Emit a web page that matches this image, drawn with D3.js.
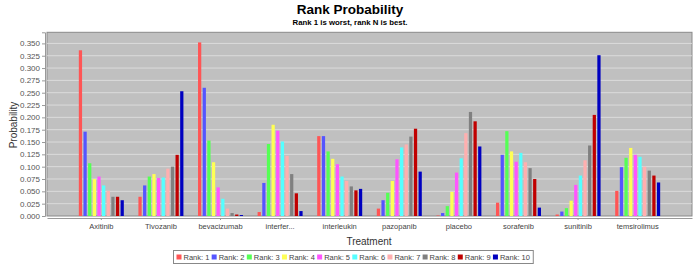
<!DOCTYPE html>
<html>
<head>
<meta charset="utf-8">
<script src="https://cdn.jsdelivr.net/npm/d3@7"></script>
<style>
  body { margin: 0; background: #fff; }
  svg text { font-family: "Liberation Sans", Arial, sans-serif; }
</style>
</head>
<body>
<svg id="chart" width="700" height="265"></svg>
<script>
// Rank probability bar chart
const treatments = ["Axitinib", "Tivozanib", "bevacizumab", "interfer...", "interleukin",
                    "pazopanib", "placebo", "sorafenib", "sunitinib", "temsirolimus"];
const ranks = ["Rank: 1", "Rank: 2", "Rank: 3", "Rank: 4", "Rank: 5",
               "Rank: 6", "Rank: 7", "Rank: 8", "Rank: 9", "Rank: 10"];
const rankColors = ["#ff5555", "#5555ff", "#55ff55", "#ffff55", "#ff55ff",
                    "#55ffff", "#ffafaf", "#808080", "#c00000", "#0000c0"];
// one row per treatment, one value per rank
const probs = [
  [0.336, 0.171, 0.107, 0.075, 0.080, 0.062, 0.051, 0.039, 0.039, 0.032],
  [0.039, 0.062, 0.080, 0.085, 0.077, 0.078, 0.096, 0.100, 0.124, 0.253],
  [0.352, 0.260, 0.153, 0.109, 0.058, 0.035, 0.015, 0.006, 0.003, 0.002],
  [0.008, 0.067, 0.146, 0.185, 0.173, 0.151, 0.122, 0.085, 0.046, 0.010],
  [0.162, 0.162, 0.131, 0.116, 0.105, 0.080, 0.071, 0.060, 0.052, 0.055],
  [0.015, 0.032, 0.047, 0.071, 0.115, 0.139, 0.145, 0.161, 0.177, 0.090],
  [0.001, 0.006, 0.020, 0.049, 0.088, 0.117, 0.168, 0.211, 0.192, 0.141],
  [0.027, 0.124, 0.172, 0.131, 0.110, 0.128, 0.109, 0.097, 0.075, 0.017],
  [0.003, 0.009, 0.016, 0.031, 0.063, 0.082, 0.113, 0.143, 0.205, 0.326],
  [0.051, 0.099, 0.118, 0.138, 0.124, 0.120, 0.100, 0.092, 0.082, 0.068]
];
const yTicks = d3.range(0, 0.3501, 0.025);

const svg = d3.select("#chart");
const plot = {left: 47, right: 692, top: 32.3, bottom: 216};

svg.append("text").attr("x", 350).attr("y", 14).attr("text-anchor", "middle")
  .attr("font-size", 13.5).attr("font-weight", "bold").text("Rank Probability");
svg.append("text").attr("x", 350).attr("y", 25).attr("text-anchor", "middle")
  .attr("font-size", 7.8).attr("font-weight", "bold").text("Rank 1 is worst, rank N is best.");

const x0 = d3.scaleBand().domain(treatments).range([plot.left, plot.right])
  .paddingInner(0.245).paddingOuter(0.534);
const x1 = d3.scaleBand().domain(ranks).range([0, x0.bandwidth()]).paddingInner(0.3);
const y = d3.scaleLinear().domain([0, 0.3725]).range([plot.bottom, plot.top]);

svg.append("rect").attr("x", plot.left).attr("y", plot.top)
  .attr("width", plot.right - plot.left).attr("height", plot.bottom - plot.top)
  .attr("fill", "#c0c0c0").attr("stroke", "#8a8a8a").attr("stroke-width", 1);

svg.append("g").selectAll("line").data(yTicks.slice(1)).join("line")
  .attr("x1", plot.left).attr("x2", plot.right)
  .attr("y1", d => y(d)).attr("y2", d => y(d))
  .attr("stroke", "#e2e2e2").attr("stroke-width", 0.8);

const groups = svg.append("g").selectAll("g").data(treatments).join("g")
  .attr("transform", d => `translate(${x0(d)},0)`);
groups.selectAll("rect").data((d, i) => probs[i].map((v, j) => ({rank: ranks[j], v, c: rankColors[j]})))
  .join("rect")
  .attr("x", d => x1(d.rank)).attr("width", x1.bandwidth())
  .attr("y", d => y(d.v)).attr("height", d => y(0) - y(d.v))
  .attr("fill", d => d.c);

// axes
const yAxis = svg.append("g").attr("transform", `translate(${plot.left - 2},0)`)
  .call(d3.axisLeft(y).tickValues(yTicks).tickFormat(d3.format(".3f")).tickSize(3).tickPadding(2));
yAxis.select(".domain").attr("stroke", "#999");
yAxis.selectAll(".tick line").attr("stroke", "#999");
yAxis.selectAll("text").attr("font-size", 8).attr("fill", "#555").attr("font-family", "Liberation Sans, Arial, sans-serif");

const xAxis = svg.append("g").attr("transform", `translate(0,${plot.bottom + 2})`)
  .call(d3.axisBottom(x0).tickSize(2).tickPadding(4).tickSizeOuter(0));
xAxis.select(".domain").attr("stroke", "#999");
xAxis.selectAll(".tick line").attr("stroke", "#999");
xAxis.selectAll("text").attr("font-size", 7.5).attr("fill", "#444").attr("font-family", "Liberation Sans, Arial, sans-serif");

svg.append("text").attr("transform", "translate(17,125) rotate(-90)").attr("text-anchor", "middle")
  .attr("font-size", 10).attr("fill", "#333").text("Probability");
svg.append("text").attr("x", 369).attr("y", 245).attr("text-anchor", "middle")
  .attr("font-size", 10).attr("fill", "#333").text("Treatment");

// legend
const legend = svg.append("g");
let lx = 176.5;
ranks.forEach((r, i) => {
  legend.append("rect").attr("x", lx).attr("y", 254.5).attr("width", 5).attr("height", 5).attr("fill", rankColors[i]);
  const t = legend.append("text").attr("x", lx + 7).attr("y", 260).attr("font-size", 7.5).attr("fill", "#444").text(r);
  lx += 7 + t.node().getComputedTextLength() + 2.3;
});
legend.insert("rect", ":first-child").attr("x", 173.5).attr("y", 250.5)
  .attr("width", lx - 173.5 + 1).attr("height", 13).attr("fill", "#fff").attr("stroke", "#888");
</script>
</body>
</html>
